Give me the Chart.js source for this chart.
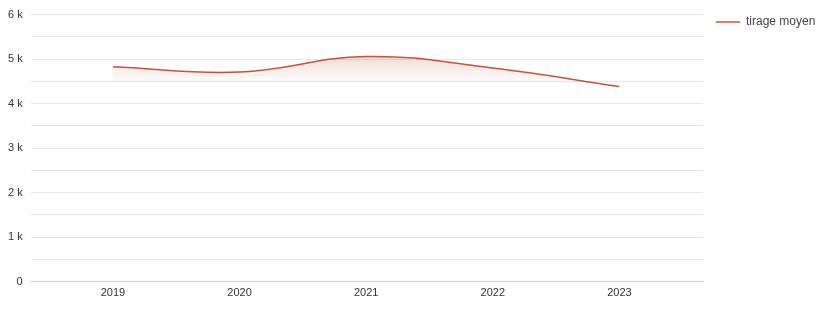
<!DOCTYPE html>
<html>
<head>
<meta charset="utf-8">
<script src="https://cdn.jsdelivr.net/npm/chart.js@4"></script>
<style>
html,body{margin:0;padding:0;background:#fff;}
#wrap{width:828px;height:315px;position:relative;}
</style>
</head>
<body>
<div id="wrap"><canvas id="c" width="828" height="315"></canvas></div>
<script>
const years = [2019, 2020, 2021, 2022, 2023];
const tirageMoyen = [4830, 4710, 5060, 4800, 4385];
const seriesLabel = 'tirage moyen';
const yTickValues = [0, 1000, 2000, 3000, 4000, 5000, 6000];

Chart.defaults.font.family = '"Liberation Sans", Arial, sans-serif';
Chart.defaults.font.size = 11;
Chart.defaults.color = '#444';

const lineColor = '#c4553d';
const ctx = document.getElementById('c').getContext('2d');

const legendWidthPlugin = {
  id: 'legendWidth',
  afterInit(chart) {
    const lg = chart.legend;
    if (!lg) return;
    const orig = lg.fit;
    lg.fit = function () {
      orig.call(this);
      this.width = 125;
    };
  }
};

new Chart(ctx, {
  type: 'line',
  data: {
    datasets: [{
      label: seriesLabel,
      data: years.map((y, i) => ({x: y, y: tirageMoyen[i]})),
      borderColor: lineColor,
      borderWidth: 1.5,
      pointRadius: 0,
      tension: 0.4,
      fill: 'origin',
      backgroundColor: (c) => {
        const {chart} = c;
        const {ctx: g, chartArea, scales} = chart;
        if (!chartArea) return 'rgba(196,85,61,0.15)';
        const top = scales.y.getPixelForValue(5100);
        const bot = scales.y.getPixelForValue(4450);
        const gr = g.createLinearGradient(0, top, 0, bot);
        gr.addColorStop(0, 'rgba(196,85,61,0.22)');
        gr.addColorStop(1, 'rgba(196,85,61,0)');
        return gr;
      }
    }]
  },
  plugins: [legendWidthPlugin],
  options: {
    responsive: false,
    animation: false,
    layout: {padding: {left: 0, right: 0, top: 3, bottom: 10}},
    plugins: {
      legend: {
        position: 'right',
        align: 'start',
        labels: {
          usePointStyle: true,
          pointStyle: 'line',
          pointStyleWidth: 24,
          boxWidth: 24,
          color: '#444',
          font: {size: 12},
          padding: 13
        }
      },
      tooltip: {enabled: false}
    },
    scales: {
      x: {
        type: 'linear',
        min: 2018.35,
        max: 2023.66,
        afterBuildTicks: (s) => { s.ticks = years.map(v => ({value: v})); },
        ticks: {callback: (v) => String(v), color: '#333', padding: 5, maxRotation: 0},
        grid: {display: false, drawTicks: false},
        border: {display: true, color: '#cfcfcf', width: 1}
      },
      y: {
        min: 0,
        max: 6000,
        afterBuildTicks: (s) => {
          const t = [];
          for (let v = 0; v <= 6000; v += 500) t.push({value: v});
          s.ticks = t;
        },
        ticks: {
          callback: (v) => yTickValues.includes(v) ? (v === 0 ? '0' : (v / 1000) + ' k') : '',
          color: '#333',
          padding: 8
        },
        grid: {
          drawTicks: false,
          color: (c) => c.tick && c.tick.value === 0 ? '#cfcfcf' : '#e6e6e6'
        },
        border: {display: false}
      }
    }
  }
});
</script>
</body>
</html>
